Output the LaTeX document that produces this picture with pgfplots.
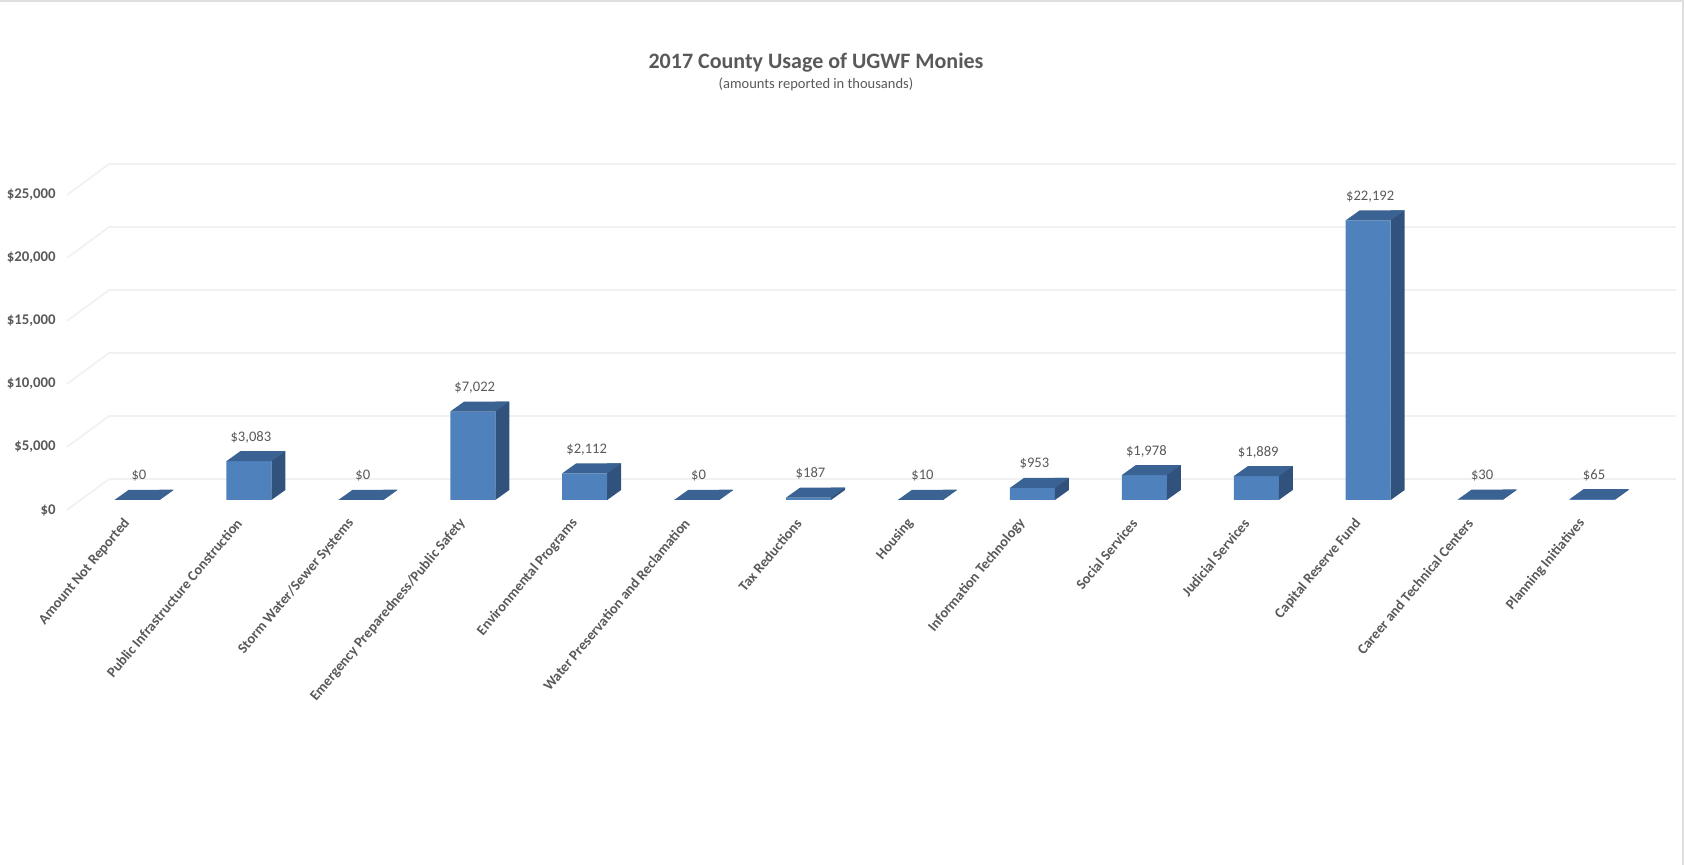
\documentclass[border=0pt]{standalone}
\usepackage{pgfplots}
\pgfplotsset{compat=1.18}
\usepackage{pgfplotstable}
\usepackage{fontspec}
\setmainfont{Carlito}

\definecolor{txt}{HTML}{595959}
\definecolor{frontc}{HTML}{4F81BD}
\definecolor{topc}{HTML}{3A6292}
\definecolor{sidec}{HTML}{31527C}
\definecolor{gridc}{HTML}{F1F1F1}

% amounts in thousands
\pgfplotstableread{
x v
0 0
1 3083
2 0
3 7022
4 2112
5 0
6 187
7 10
8 953
9 1978
10 1889
11 22192
12 30
13 65
}\usage

% top of a 3D bar, drawn at the bar's value
\pgfdeclareplotmark{topface}{%
  \pgfpathmoveto{\pgfpoint{-11.25pt}{0pt}}%
  \pgfpathlineto{\pgfpoint{11.25pt}{0pt}}%
  \pgfpathlineto{\pgfpoint{18.25pt}{5pt}}%
  \pgfpathlineto{\pgfpoint{-4.25pt}{5pt}}%
  \pgfpathclose\pgfusepathqfill}
% foot of the side face
\pgfdeclareplotmark{sidefoot}{%
  \pgfpathmoveto{\pgfpoint{11.25pt}{0pt}}%
  \pgfpathlineto{\pgfpoint{18.25pt}{5pt}}%
  \pgfpathlineto{\pgfpoint{11.25pt}{5pt}}%
  \pgfpathclose\pgfusepathqfill}

\pgfplotsset{
  base/.style={scale only axis, width=783.5pt, height=157.5pt,
    xmin=-0.5, xmax=13.5, ymin=0, ymax=25000, anchor=south west,
    axis line style={draw=none}, major tick length=0pt, scaled y ticks=false},
}

\begin{document}
\begin{tikzpicture}
% back wall with gridlines
\begin{axis}[base, at={(14pt,10.5pt)}, xtick=\empty,
  ytick={0,5000,...,25000}, yticklabels={},
  ymajorgrids, grid style={gridc, line width=0.9pt}]
\addplot[draw=none] coordinates {(0,0)};
\end{axis}

\begin{axis}[base, at={(0pt,0pt)}, clip=false,
  xtick={0,...,13},
  xticklabels={Amount Not Reported, Public Infrastructure Construction,
    Storm Water/Sewer Systems, Emergency Preparedness/Public Safety,
    Environmental Programs, Water Preservation and Reclamation,
    Tax Reductions, Housing, Information Technology, Social Services,
    Judicial Services, Capital Reserve Fund, Career and Technical Centers,
    Planning Initiatives},
  xticklabel style={xshift=-4.8pt, yshift=-10.3pt, rotate=50, anchor=east,
    inner sep=0pt, text=txt, font=\fontsize{7.2}{8}\selectfont\bfseries},
  ytick={0,5000,...,25000},
  yticklabel={\$\pgfmathprintnumber[fixed, precision=0, 1000 sep={,}, assume math mode=true]{\tick}},
  yticklabel style={anchor=east, inner sep=0pt, xshift=-12.5pt, yshift=-5pt,
    text=txt, font=\fontsize{7.4}{8}\selectfont\bfseries},
]
% side walls of the floor
\pgfplotsinvokeforeach{0,5000,10000,15000,20000,25000}{
  \draw[gridc, line width=0.9pt] ([shift={(-7pt,-5pt)}]axis cs:-0.5,#1)
    -- ([shift={(14pt,10.5pt)}]axis cs:-0.5,#1);
}
% side face
\addplot[ybar, bar width=7pt, bar shift=14.75pt, yshift=5pt, fill=sidec, draw=none]
  table[x=x, y=v] {\usage};
\addplot[only marks, mark=sidefoot, mark options={fill=sidec, draw=none}]
  table[x=x, y expr=0] {\usage};
% front face
\addplot[ybar, bar width=22.5pt, bar shift=0pt, fill=frontc, draw=none]
  table[x=x, y=v] {\usage};
% top face and value labels
\addplot[only marks, mark=topface, mark options={fill=topc, draw=none},
  point meta=rawy,
  nodes near coords={\$\pgfmathprintnumber[fixed, precision=0, 1000 sep={,}, assume math mode=true]{\pgfplotspointmeta}},
  every node near coord/.append style={anchor=center, xshift=1pt, yshift=12pt,
    text=txt, font=\fontsize{7.3}{8}\selectfont}]
  table[x=x, y=v] {\usage};
\end{axis}

\node[text=txt, font=\fontsize{11}{13}\selectfont\bfseries] at (367.5pt,218.5pt)
  {2017 County Usage of UGWF Monies};
\node[text=txt, font=\fontsize{7.25}{8}\selectfont] at (367.5pt,208pt)
  {(amounts reported in thousands)};

\pgfresetboundingbox
\path[use as bounding box] (-40.5pt,-182.5pt) rectangle (801.5pt,250pt);
\draw[gray!25, line width=1pt] (-40.5pt,249.5pt) -- (801pt,249.5pt) -- (801pt,-182.5pt);
\end{tikzpicture}
\end{document}
